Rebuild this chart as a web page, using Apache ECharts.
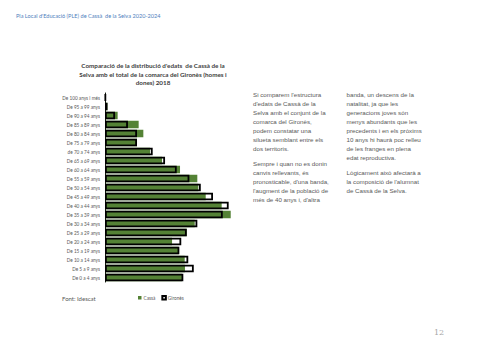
<!DOCTYPE html>
<html>
<head>
<meta charset="utf-8">
<script src="https://cdn.jsdelivr.net/npm/echarts@6/dist/echarts.min.js"></script>
<style>
html,body{margin:0;padding:0;background:#fff;}
#c{width:480px;height:348px;}
</style>
</head>
<body>
<div id="c"></div>
<script>
// Age groups, top to bottom
const categories = ["De 100 anys i més","De 95 a 99 anys","De 90 a 94 anys","De 85 a 89 anys","De 80 a 84 anys","De 75 a 79 anys","de 70 a 74 anys","De 65 a 69 anys","De 60 a 64 anys","De 55 a 59 anys","De 50 a 54 anys","De 45 a 49 anys","De 40 a 44 anys","De 35 a 39 anys","De 30 a 34 anys","De 25 a 29 anys","De 20 a 24 anys","De 15 a 19 anys","De 10 a 14 anys","De 5 a 9 anys","De 0 a 4 anys"];
// % of population
const cassa   = [0.05,0.18,0.92,2.45,2.79,2.33,3.28,4.15,5.46,6.72,6.79,7.33,8.49,9.15,6.53,5.95,4.88,5.36,5.80,5.82,5.60];
const girones = [0.05,0.18,0.73,1.67,2.33,2.33,3.47,4.37,5.22,6.14,6.97,7.86,9.00,8.57,6.72,5.95,5.55,5.41,6.06,6.46,5.70];
const seriesNames = ["Cassà","Gironès"];

const chart = echarts.init(document.getElementById('c'), null, {renderer:'svg'});
const bodyFont = '"Liberation Sans", Arial, sans-serif';
const calFont = 'Lato, "Open Sans", sans-serif';
const bodyColor = '#595959';
function txt(x, y, text, opts){
  return Object.assign({type:'text', x:x, y:y, silent:true,
    style:Object.assign({text:text, fill:bodyColor, font:'6.2px '+bodyFont, textVerticalAlign:'top', lineHeight:9}, opts||{})});
}
chart.setOption({
  animation:false,
  grid:{left:105, top:93, width:137.4, height:189},
  xAxis:{type:'value', min:0, max:10, show:false},
  yAxis:{type:'category', data:categories, inverse:true,
    axisLine:{show:true, lineStyle:{color:'#000', width:1}},
    axisTick:{show:false},
    axisLabel:{fontSize:4.7, color:'#595959', fontFamily:calFont, margin:5}},
  legend:{left:133, top:290, icon:'rect', itemWidth:3.5, itemHeight:3.5, itemGap:6,
    textStyle:{fontSize:4.7, color:'#595959', fontFamily:calFont, padding:[0,0,0,-3]},
    data:seriesNames},
  series:[
    {name:seriesNames[0], type:'bar', data:cassa, barWidth:7.5, z:2,
      itemStyle:{color:'#548235'}},
    {name:seriesNames[1], type:'bar', data:girones, barWidth:7.5, barGap:'-100%', z:3,
      itemStyle:{color:'rgba(255,255,255,0)', borderColor:'#000', borderWidth:1.8}}
  ],
  graphic:[
    txt(16, 11, "Pla Local d'Educació (PLE) de Cassà  de la Selva 2020-2024", {fill:'#4f81bd', font:'5.6px '+calFont}),
    txt(153, 61.5, "Comparació de la distribució d'edats  de Cassà de la\nSelva amb el total de la comarca del Gironès (homes i\ndones) 2018", {fill:'#404040', font:'bold 6.3px '+calFont, textAlign:'center', lineHeight:8.5}),
    txt(253, 89.5, "Si comparem l'estructura\nd'edats de Cassà de la\nSelva amb el conjunt de la\ncomarca del Gironès,\npodem constatar una\nsilueta semblant entre els\ndos territoris."),
    txt(253, 158.8, "Sempre i quan no es donin\ncanvis rellevants, és\npronosticable, d'una banda,\nl'augment de la població de\nmés de 40 anys i, d'altra"),
    txt(346.5, 89.5, "banda, un descens de la\nnatalitat, ja que les\ngeneracions joves són\nmenys abundants que les\nprecedents i en els pròxims\n10 anys hi haurà poc relleu\nde les franges en plena\nedat reproductiva."),
    txt(346.5, 167.8, "Lògicament això afectarà a\nla composició de l'alumnat\nde Cassà de la Selva."),
    txt(62, 293.5, "Font: Idescat", {font:'6px '+calFont}),
    txt(434, 327.5, "12", {fill:'#a6a6a6', font:'8px "DejaVu Serif", serif'})
  ]
});
</script>
</body>
</html>
